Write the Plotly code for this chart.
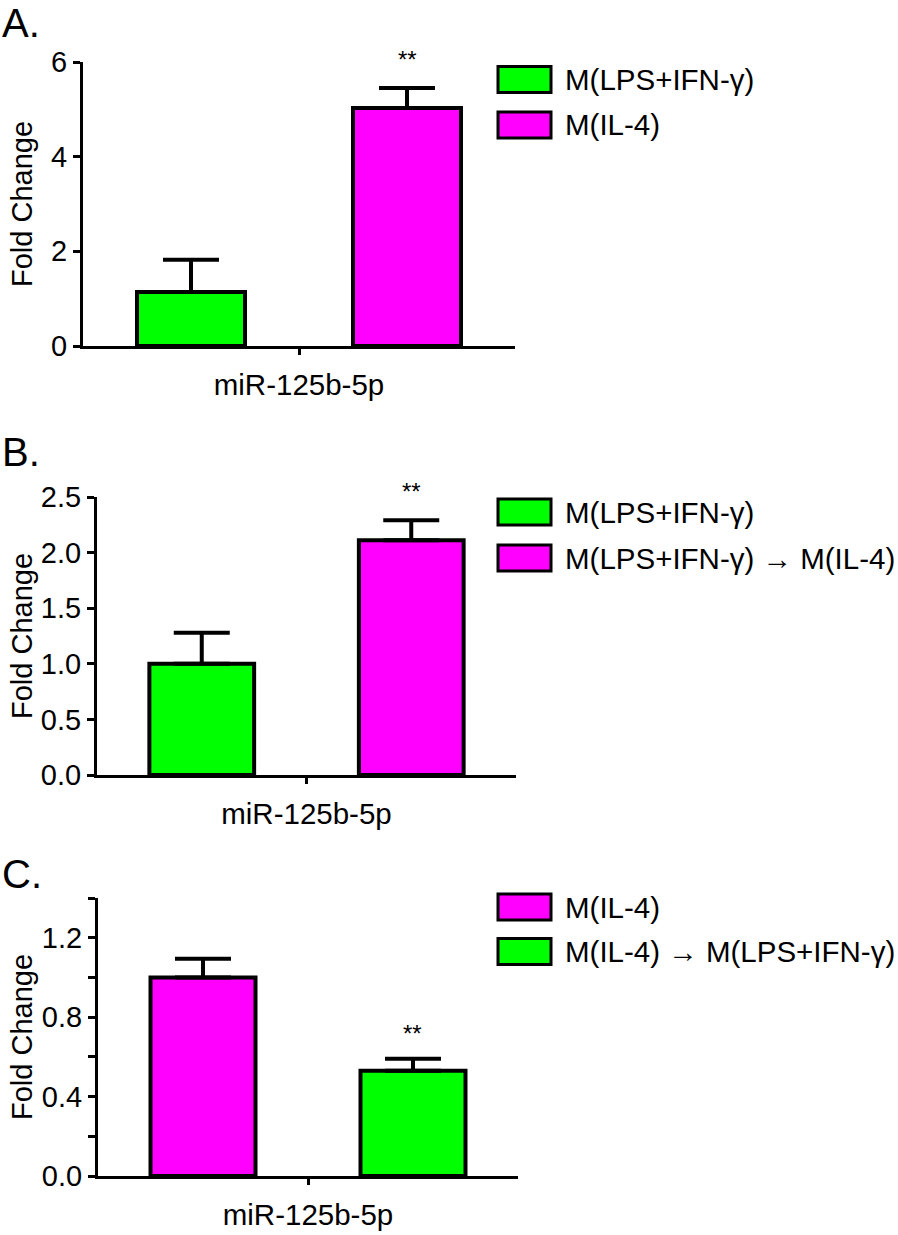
import plotly.graph_objects as go

# ---------------- data ----------------
category = ["miR-125b-5p"]
panel_labels = ["A.", "B.", "C."]
y_title = "Fold Change"

groups_a = ["M(LPS+IFN-γ)", "M(IL-4)"]
values_a = [1.14, 5.03]
errors_a = [0.68, 0.42]
colors_a = ["#00ff00", "#ff00ff"]
sig_a = ["", "**"]

groups_b = ["M(LPS+IFN-γ)", "M(LPS+IFN-γ) → M(IL-4)"]
values_b = [1.00, 2.11]
errors_b = [0.28, 0.18]
colors_b = ["#00ff00", "#ff00ff"]
sig_b = ["", "**"]

groups_c = ["M(IL-4)", "M(IL-4) → M(LPS+IFN-γ)"]
values_c = [1.00, 0.53]
errors_c = [0.094, 0.06]
colors_c = ["#ff00ff", "#00ff00"]
sig_c = ["", "**"]

yranges = [[0, 6], [0, 2.5], [0, 1.4]]
ydticks = [2, 0.5, 0.4]
yformats = ["d", ".1f", ".1f"]

# ---------------- layout (pixels) ----------------
W, H = 898, 1235
FONT = "Arial, Liberation Sans, Helvetica, sans-serif"
# plot boxes: x0, x1, ytop, ybottom
boxes = [(83, 515, 62, 346), (97, 516, 497, 775), (98, 518, 898, 1176)]
legend_rows = [(79.5, 125), (512, 558), (907, 951.5)]
label_y = [23, 452, 874]
tick_standoff = [5, 5, 5]
sig_shift = [29, 29, 25]

panels = [
    (groups_a, values_a, errors_a, colors_a, sig_a),
    (groups_b, values_b, errors_b, colors_b, sig_b),
    (groups_c, values_c, errors_c, colors_c, sig_c),
]

fig = go.Figure()
shapes = []
annotations = []

for p, (groups, values, errors, colors, sigs) in enumerate(panels):
    suffix = "" if p == 0 else str(p + 1)
    xa, ya = "x" + suffix, "y" + suffix
    n = len(groups)
    for i, g in enumerate(groups):
        fig.add_trace(go.Bar(
            x=category, y=[values[i]], name=g,
            xaxis=xa, yaxis=ya,
            marker=dict(color=colors[i], line=dict(color="black", width=4)),
            error_y=dict(type="data", array=[errors[i]], arrayminus=[0],
                         symmetric=False, color="black", thickness=4, width=28),
            showlegend=False, hoverinfo="skip",
        ))
        if sigs[i]:
            annotations.append(dict(
                text=sigs[i], xref=xa + " domain", yref=ya,
                x=(i + 0.5) / n, y=values[i] + errors[i],
                xanchor="center", yanchor="middle", yshift=sig_shift[p],
                showarrow=False, font=dict(family=FONT, size=24, color="black"),
            ))

    x0, x1, yt, yb = boxes[p]
    fig.layout["xaxis" + suffix] = dict(
        domain=[x0 / W, x1 / W], anchor=ya, range=[-0.5, 0.5],
        showline=True, linecolor="black", linewidth=3, automargin=False,
        ticks="outside", ticklen=6, tickwidth=3, tickcolor="black",
        ticklabelstandoff=tick_standoff[p],
        tickfont=dict(family=FONT, size=29.5, color="black"),
        showgrid=False, zeroline=False, fixedrange=True,
    )
    yax = dict(
        domain=[1 - yb / H, 1 - yt / H], anchor=xa, range=yranges[p],
        dtick=ydticks[p], tick0=0, tickformat=yformats[p],
        showline=True, linecolor="black", linewidth=3, automargin=False,
        ticks="outside", ticklen=7, tickwidth=3, tickcolor="black",
        tickfont=dict(family=FONT, size=29, color="black"),
        showgrid=False, zeroline=False, fixedrange=True,
    )
    if p == 2:
        yax["minor"] = dict(dtick=0.2, ticks="outside", ticklen=7,
                            tickwidth=3, tickcolor="black", showgrid=False)
    fig.layout["yaxis" + suffix] = yax

    # y-axis title
    annotations.append(dict(
        text=y_title, textangle=-90, xref="paper", yref=ya + " domain",
        x=22 / W, y=0.5, xanchor="center", yanchor="middle",
        showarrow=False, font=dict(family=FONT, size=29, color="black"),
    ))
    # panel label
    annotations.append(dict(
        text=panel_labels[p], xref="paper", yref="paper",
        x=0, y=1 - label_y[p] / H, xanchor="left", yanchor="middle",
        showarrow=False, font=dict(family=FONT, size=40, color="black"),
    ))
    # custom legend
    for i, g in enumerate(groups):
        cy = legend_rows[p][i]
        shapes.append(dict(
            type="rect", xref="paper", yref="paper",
            x0=498 / W, x1=551 / W, y0=1 - (cy - 13) / H, y1=1 - (cy + 13) / H,
            fillcolor=colors[i], line=dict(color="black", width=3),
        ))
        annotations.append(dict(
            text=g, xref="paper", yref="paper",
            x=563 / W, y=1 - cy / H, xanchor="left", yanchor="middle",
            showarrow=False, font=dict(family=FONT, size=29.5, color="black"),
        ))

fig.update_layout(
    template="none",
    width=W, height=H, margin=dict(l=0, r=0, t=0, b=0, pad=0, autoexpand=False),
    paper_bgcolor="white", plot_bgcolor="white",
    barmode="group", bargap=0, bargroupgap=0.5,
    showlegend=False, shapes=shapes, annotations=annotations,
)

fig.write_html(
    "out.html",
    config={"displayModeBar": False, "staticPlot": True},
    post_script="document.body.style.margin='0px';document.body.style.overflow='hidden';",
)
